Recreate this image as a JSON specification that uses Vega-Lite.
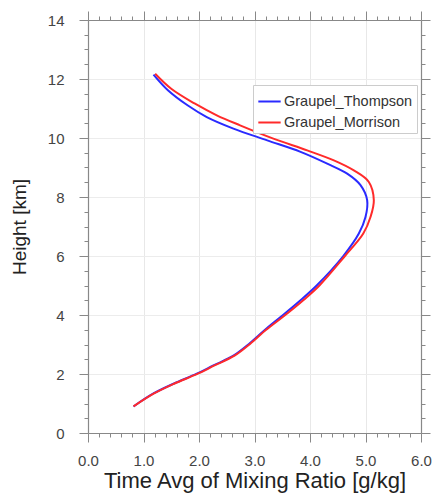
{
  "$schema": "https://vega.github.io/schema/vega-lite/v6.json",
  "width": 333,
  "height": 413,
  "autosize": "none",
  "padding": {"left": 88, "top": 20, "right": 13, "bottom": 66},
  "background": "white",
  "config": {
    "view": {"stroke": null},
    "font": "Liberation Sans"
  },
  "data": {"values": [
    {"model": "Graupel_Thompson", "x": 0.82, "h": 0.90},
    {"model": "Graupel_Thompson", "x": 1.18, "h": 1.34},
    {"model": "Graupel_Thompson", "x": 1.54, "h": 1.67},
    {"model": "Graupel_Thompson", "x": 1.96, "h": 2.01},
    {"model": "Graupel_Thompson", "x": 2.26, "h": 2.29},
    {"model": "Graupel_Thompson", "x": 2.62, "h": 2.62},
    {"model": "Graupel_Thompson", "x": 2.9, "h": 3.02},
    {"model": "Graupel_Thompson", "x": 3.19, "h": 3.5},
    {"model": "Graupel_Thompson", "x": 3.48, "h": 3.95},
    {"model": "Graupel_Thompson", "x": 3.84, "h": 4.52},
    {"model": "Graupel_Thompson", "x": 4.12, "h": 5.0},
    {"model": "Graupel_Thompson", "x": 4.6, "h": 6.0},
    {"model": "Graupel_Thompson", "x": 4.88, "h": 6.76},
    {"model": "Graupel_Thompson", "x": 5.0, "h": 7.32},
    {"model": "Graupel_Thompson", "x": 5.03, "h": 7.89},
    {"model": "Graupel_Thompson", "x": 4.91, "h": 8.40},
    {"model": "Graupel_Thompson", "x": 4.67, "h": 8.79},
    {"model": "Graupel_Thompson", "x": 4.31, "h": 9.13},
    {"model": "Graupel_Thompson", "x": 3.83, "h": 9.53},
    {"model": "Graupel_Thompson", "x": 3.23, "h": 9.92},
    {"model": "Graupel_Thompson", "x": 2.62, "h": 10.32},
    {"model": "Graupel_Thompson", "x": 2.14, "h": 10.71},
    {"model": "Graupel_Thompson", "x": 1.8, "h": 11.1},
    {"model": "Graupel_Thompson", "x": 1.44, "h": 11.62},
    {"model": "Graupel_Thompson", "x": 1.18, "h": 12.15},
    {"model": "Graupel_Morrison", "x": 0.82, "h": 0.90},
    {"model": "Graupel_Morrison", "x": 1.19, "h": 1.34},
    {"model": "Graupel_Morrison", "x": 1.55, "h": 1.67},
    {"model": "Graupel_Morrison", "x": 1.98, "h": 2.01},
    {"model": "Graupel_Morrison", "x": 2.28, "h": 2.29},
    {"model": "Graupel_Morrison", "x": 2.64, "h": 2.62},
    {"model": "Graupel_Morrison", "x": 2.92, "h": 3.02},
    {"model": "Graupel_Morrison", "x": 3.21, "h": 3.5},
    {"model": "Graupel_Morrison", "x": 3.52, "h": 3.95},
    {"model": "Graupel_Morrison", "x": 3.89, "h": 4.52},
    {"model": "Graupel_Morrison", "x": 4.17, "h": 5.0},
    {"model": "Graupel_Morrison", "x": 4.63, "h": 6.0},
    {"model": "Graupel_Morrison", "x": 4.96, "h": 6.76},
    {"model": "Graupel_Morrison", "x": 5.09, "h": 7.32},
    {"model": "Graupel_Morrison", "x": 5.15, "h": 7.89},
    {"model": "Graupel_Morrison", "x": 5.06, "h": 8.51},
    {"model": "Graupel_Morrison", "x": 4.79, "h": 8.90},
    {"model": "Graupel_Morrison", "x": 4.43, "h": 9.24},
    {"model": "Graupel_Morrison", "x": 3.95, "h": 9.58},
    {"model": "Graupel_Morrison", "x": 3.34, "h": 9.98},
    {"model": "Graupel_Morrison", "x": 2.74, "h": 10.43},
    {"model": "Graupel_Morrison", "x": 2.32, "h": 10.77},
    {"model": "Graupel_Morrison", "x": 1.92, "h": 11.17},
    {"model": "Graupel_Morrison", "x": 1.5, "h": 11.67},
    {"model": "Graupel_Morrison", "x": 1.21, "h": 12.18}
  ]},
  "layer": [
    {
      "mark": {"type": "line", "strokeWidth": 2, "interpolate": "catmull-rom", "clip": true},
      "encoding": {
        "x": {
          "field": "x", "type": "quantitative",
          "scale": {"domain": [0, 6], "nice": false, "zero": false},
          "axis": {
            "orient": "bottom",
            "title": "Time Avg of Mixing Ratio [g/kg]",
            "titleFontSize": 22, "titleFontWeight": "normal", "titleColor": "#222", "titlePadding": 2,
            "values": [0,0.2,0.4,0.6,0.8,1,1.2,1.4,1.6,1.8,2,2.2,2.4,2.6,2.8,3,3.2,3.4,3.6,3.8,4,4.2,4.4,4.6,4.8,5,5.2,5.4,5.6,5.8,6],
            "labelExpr": "abs(datum.value - round(datum.value)) < 0.01 ? format(datum.value, '.1f') : ''",
            "labelFontSize": 15, "labelColor": "#444", "labelPadding": 11, "labelFlush": false, "labelOverlap": false,
            "domainColor": "#888", "domainWidth": 1.2,
            "tickColor": "#888",
            "tickSize": {"condition": {"test": "abs(datum.value - round(datum.value)) < 0.01", "value": 9}, "value": 4},
            "grid": true, "gridColor": "#e8e8e8",
            "gridOpacity": {"condition": {"test": "abs(datum.value - round(datum.value)) < 0.01 && datum.value > 0 && datum.value < 6", "value": 1}, "value": 0}
          }
        },
        "y": {
          "field": "h", "type": "quantitative",
          "scale": {"domain": [0, 14], "nice": false},
          "axis": {
            "orient": "left",
            "title": "Height [km]",
            "titleFontSize": 19, "titleFontWeight": "normal", "titleColor": "#222", "titlePadding": 18,
            "values": [0,0.5,1,1.5,2,2.5,3,3.5,4,4.5,5,5.5,6,6.5,7,7.5,8,8.5,9,9.5,10,10.5,11,11.5,12,12.5,13,13.5,14],
            "labelExpr": "abs(datum.value/2 - round(datum.value/2)) < 0.01 ? format(datum.value, 'd') : ''",
            "labelFontSize": 15, "labelColor": "#444", "labelPadding": 15, "labelOverlap": false,
            "domainColor": "#888", "domainWidth": 1.2,
            "tickColor": "#888",
            "tickSize": {"condition": {"test": "abs(datum.value/2 - round(datum.value/2)) < 0.01", "value": 9}, "value": 4},
            "grid": true, "gridColor": "#ececec",
            "gridOpacity": {"condition": {"test": "abs(datum.value/2 - round(datum.value/2)) < 0.01 && datum.value > 0 && datum.value < 14", "value": 1}, "value": 0}
          }
        },
        "color": {
          "field": "model", "type": "nominal",
          "scale": {"domain": ["Graupel_Thompson", "Graupel_Morrison"], "range": ["#2a2aff", "#ff2a2a"]},
          "legend": {
            "orient": "none", "legendX": 165, "legendY": 65,
            "title": null, "symbolType": "stroke", "symbolStrokeWidth": 2, "symbolSize": 500,
            "labelFontSize": 14.5, "labelColor": "#333", "labelOffset": 2,
            "strokeColor": "#cccccc", "padding": 4, "rowPadding": 2, "fillColor": "white"
          }
        },
        "order": {"field": "h", "type": "quantitative"}
      }
    },
    {
      "mark": {"type": "line", "opacity": 0},
      "encoding": {
        "x": {
          "field": "x", "type": "quantitative",
          "scale": {"domain": [0, 6], "nice": false, "zero": false},
          "axis": {
            "orient": "top", "title": null, "labels": false, "grid": false,
            "values": [0,0.2,0.4,0.6,0.8,1,1.2,1.4,1.6,1.8,2,2.2,2.4,2.6,2.8,3,3.2,3.4,3.6,3.8,4,4.2,4.4,4.6,4.8,5,5.2,5.4,5.6,5.8,6],
            "domainColor": "#888", "domainWidth": 1.2, "tickColor": "#888",
            "tickSize": {"condition": {"test": "abs(datum.value - round(datum.value)) < 0.01", "value": 9}, "value": 4}
          }
        },
        "y": {
          "field": "h", "type": "quantitative",
          "scale": {"domain": [0, 14], "nice": false},
          "axis": {
            "orient": "right", "title": null, "labels": false, "grid": false,
            "values": [0,0.5,1,1.5,2,2.5,3,3.5,4,4.5,5,5.5,6,6.5,7,7.5,8,8.5,9,9.5,10,10.5,11,11.5,12,12.5,13,13.5,14],
            "domainColor": "#888", "domainWidth": 1.2, "tickColor": "#888",
            "tickSize": {"condition": {"test": "abs(datum.value/2 - round(datum.value/2)) < 0.01", "value": 9}, "value": 4}
          }
        },
        "detail": {"field": "model", "type": "nominal"},
        "order": {"field": "h", "type": "quantitative"}
      }
    }
  ],
  "resolve": {"axis": {"x": "independent", "y": "independent"}}
}
